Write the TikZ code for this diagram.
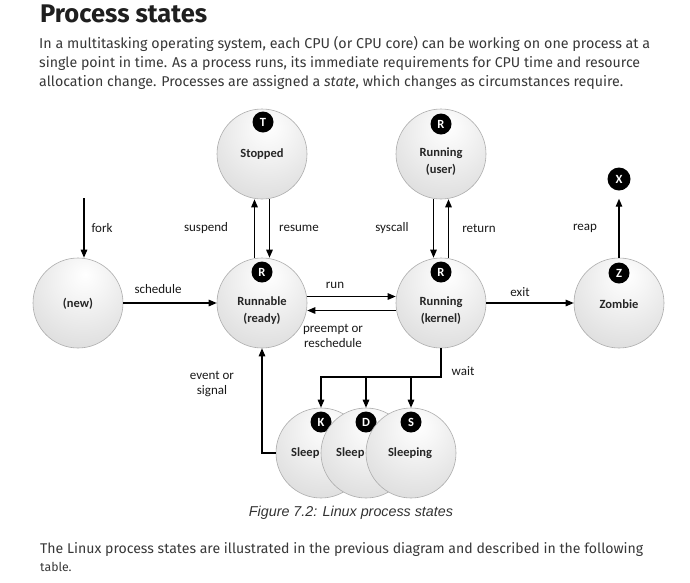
\documentclass[tikz,border=0pt]{standalone}
\usepackage{fontspec}
\setmainfont{Carlito}
\newfontfamily\titlefont{Fira Sans}
\newfontfamily\bodyfont{Fira Sans}
\newfontfamily\capfont{Liberation Sans}
\usetikzlibrary{arrows.meta}
\pgfdeclareradialshading{sphere}{\pgfpoint{4bp}{16bp}}{color(0bp)=(white); color(12bp)=(black!4); color(50bp)=(black!18); color(70bp)=(black!27); color(95bp)=(black!31)}
\tikzset{
  state/.style={circle, minimum size=90pt, inner sep=0pt, draw=black!32, line width=0.6pt, shading=sphere},
  stxt/.style={font=\bfseries\fontsize{12.5}{17}\selectfont, text=black!85, align=center, inner sep=0pt},
  badge/.style={circle, fill=black, minimum size=21pt, inner sep=0pt, text=white, font=\bfseries\fontsize{12.5}{13}\selectfont},
  lbl/.style={font=\fontsize{13}{15}\selectfont, text=black!90, align=center, inner sep=0pt},
  arr/.style={-{Triangle[length=8pt,width=6.5pt]}, line width=1.2pt},
  bodyline/.style={anchor=base west, inner sep=0pt, text=black!78}
}
\begin{document}
\begin{tikzpicture}[x=1pt,y=-1pt]
\useasboundingbox[fill=white] (0,0) rectangle (690,582);

% heading and text
\node[anchor=base west, inner sep=0pt, text=black!88] (title) at (40,22) {\resizebox{167pt}{!}{\titlefont\bfseries\fontsize{22}{26}\selectfont Process states}};
\node[bodyline] (body1) at (39,48) {\resizebox{611pt}{!}{\bodyfont\fontsize{12}{14}\selectfont In a multitasking operating system, each CPU (or CPU core) can be working on one process at a}};
\node[bodyline] (body2) at (39,67) {\resizebox{601pt}{!}{\bodyfont\fontsize{12}{14}\selectfont single point in time. As a process runs, its immediate requirements for CPU time and resource}};
\node[bodyline] (body3) at (39,86) {\resizebox{584pt}{!}{\bodyfont\fontsize{12}{14}\selectfont allocation change. Processes are assigned a \textit{state}, which changes as circumstances require.}};

% states
\node[state] (new) at (78,303) {};
\node[stxt] (new-t) at (78,304) {(new)};

\node[state] (runnable) at (262,303) {};
\node[stxt, anchor=north] (runnable-t) at (262,297) {Runnable\\(ready)};
\node[badge] (runnable-b) at (262,272) {R};

\node[state] (stopped) at (262,154) {};
\node[stxt] (stopped-t) at (262,154) {Stopped};
\node[badge] (stopped-b) at (263,122) {T};

\node[state] (user) at (441,154) {};
\node[stxt, anchor=north] (user-t) at (441,148) {Running\\(user)};
\node[badge] (user-b) at (441,124) {R};

\node[state] (kernel) at (441,303) {};
\node[stxt, anchor=north] (kernel-t) at (441,297) {Running\\(kernel)};
\node[badge] (kernel-b) at (441,272) {R};

\node[state] (zombie) at (619,303) {};
\node[stxt] (zombie-t) at (619,304) {Zombie};
\node[badge] (zombie-b) at (619,273) {Z};

\node[badge, minimum size=23pt] (dead) at (619,179) {X};

% sleeping states (drawn back to front)
\node[state] (sleepK) at (321,453) {};
\node[stxt, anchor=west] (sleepK-t) at (291,453) {Sleep};
\node[badge] (sleepK-b) at (321,422) {K};

\node[state] (sleepD) at (366,453) {};
\node[stxt, anchor=west] (sleepD-t) at (336,453) {Sleep};
\node[badge] (sleepD-b) at (366,422) {D};

\node[state] (sleepS) at (411,453) {};
\node[stxt] (sleepS-t) at (410,453) {Sleeping};
\node[badge] (sleepS-b) at (411,422) {S};

% transitions
\coordinate (forkstart) at (84,198);
\draw[arr] (forkstart) -- (forkstart |- new.north);
\draw[arr] (new.east) -- (runnable.west);
\draw[arr] ([xshift=-7.5pt]runnable.north) -- ([xshift=-7.5pt]stopped.south);
\draw[arr] ([xshift=7.5pt]stopped.south) -- ([xshift=7.5pt]runnable.north);
\draw[arr] ([xshift=-7.5pt]user.south) -- ([xshift=-7.5pt]kernel.north);
\draw[arr] ([xshift=7.5pt]kernel.north) -- ([xshift=7.5pt]user.south);
\draw[arr] ([yshift=6.5pt]runnable.east) -- ([yshift=6.5pt]kernel.west);
\draw[arr] ([yshift=-7.5pt]kernel.west) -- ([yshift=-7.5pt]runnable.east);
\draw[arr] (kernel.east) -- (zombie.west);
\draw[arr, shorten >=8pt] (zombie.north) -- (dead.south);

\coordinate (waitj) at (441,377);
\draw[arr] (kernel.south) |- (waitj -| sleepK.north) -- (sleepK.north);
\draw[arr] (waitj -| sleepD.north) -- (sleepD.north);
\draw[arr] (waitj -| sleepS.north) -- (sleepS.north);
\draw[arr] (sleepK.west) -| (runnable.south);

% transition labels
\node[lbl] (l-fork) at (102,228) {fork};
\node[lbl] (l-suspend) at (206,228) {suspend};
\node[lbl] (l-resume) at (299,228) {resume};
\node[lbl] (l-syscall) at (392,228) {syscall};
\node[lbl] (l-return) at (479,228) {return};
\node[lbl] (l-reap) at (585,228) {reap};
\node[lbl] (l-schedule) at (158,289) {schedule};
\node[lbl] (l-run) at (335,285) {run};
\node[lbl] (l-preempt) at (333,336) {preempt or\\reschedule};
\node[lbl] (l-exit) at (520,292) {exit};
\node[lbl] (l-wait) at (463,371) {wait};
\node[lbl] (l-event) at (212,384) {event or\\signal};

% caption and following text
\node[anchor=base, inner sep=0pt, text=black!80] (caption) at (351,516) {\resizebox{204pt}{!}{\capfont\itshape\fontsize{13}{15}\selectfont Figure 7.2: Linux process states}};
\node[bodyline] (after1) at (40,553) {\resizebox{603pt}{!}{\bodyfont\fontsize{12}{14}\selectfont The Linux process states are illustrated in the previous diagram and described in the following}};
\node[bodyline] (after2) at (40,571) {\bodyfont\fontsize{12.3}{14}\selectfont table.};
\end{tikzpicture}
\end{document}
